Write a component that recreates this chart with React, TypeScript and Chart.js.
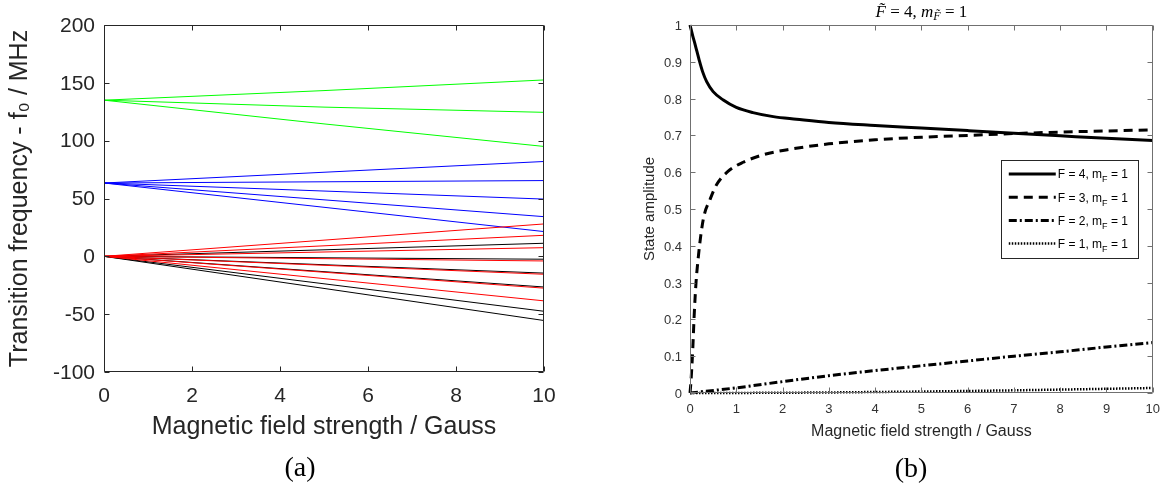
import React, { useEffect, useRef } from 'react';
import { Chart, registerables } from 'chart.js';

Chart.register(...registerables);

// ---------------- Panel (a): transition frequency vs field ----------------
const fieldEnds = [0, 10];
const greenField = [0, 5, 10];
const greenLines = [
  [135, 143.3, 152.5],
  [135, 129, 124.5],
  [135, 114.5, 95],
];
const blueOrigin = 63.4;
const blueEnds = [82, 65.5, 49.5, 34.3, 21.4];
const redOrigin = 0;
const redEnds = [28, 18.2, 7.5, -4, -15.5, -27.5, -38.5];
const blackOrigin = 0;
const blackEnds = [11.3, -2.5, -14.5, -26.5, -47.5, -55.5];

const aXRange = [0, 10];
const aXStep = 2;
const aYRange = [-100, 200];
const aYStep = 50;
const aXTitle = 'Magnetic field strength / Gauss';
const aYTitle = 'Transition frequency - f\u2080 / MHz';

// ---------------- Panel (b): state amplitudes ----------------
const f4Field = [0, 0.02, 0.06, 0.1, 0.15, 0.2, 0.27, 0.36, 0.5, 0.72, 1, 1.36, 1.8, 2.3, 3, 4, 5, 6, 7, 8, 9, 10];
const f4Amp = [1, 0.99, 0.97, 0.952, 0.928, 0.904, 0.874, 0.846, 0.819, 0.796, 0.776, 0.762, 0.751, 0.744, 0.735, 0.727, 0.72, 0.713, 0.706, 0.699, 0.692, 0.686];
const f3Field = [0, 0.02, 0.06, 0.09, 0.13, 0.18, 0.23, 0.3, 0.43, 0.57, 0.82, 1.15, 1.6, 2.2, 3, 4, 5, 6, 7, 8, 9, 10];
const f3Amp = [0, 0.03, 0.12, 0.21, 0.3, 0.37, 0.425, 0.48, 0.525, 0.565, 0.602, 0.627, 0.648, 0.663, 0.677, 0.688, 0.695, 0.7, 0.705, 0.709, 0.712, 0.715];
const f2Field = [0, 1, 2, 3, 4, 5, 6, 7, 8, 9, 10];
const f2Amp = [0, 0.014, 0.031, 0.047, 0.061, 0.074, 0.087, 0.1, 0.112, 0.125, 0.137];
const f1Field = [0, 1, 2, 3, 4, 5, 6, 7, 8, 9, 10];
const f1Amp = [0, 0.0002, 0.0007, 0.0015, 0.0027, 0.004, 0.0055, 0.0073, 0.0093, 0.0114, 0.0136];

const bLegendF = ['4', '3', '2', '1'];
const bXRange = [0, 10];
const bXStep = 1;
const bYRange = [0, 1];
const bYStep = 0.1;
const bXTitle = 'Magnetic field strength / Gauss';
const bYTitle = 'State amplitude';

const captionA = '(a)';
const captionB = '(b)';

const SANS = '"Liberation Sans", Arial, Helvetica, sans-serif';
const SERIF = '"Liberation Serif", "Times New Roman", serif';

const dashStyles = [[], [9, 6], [8, 3, 2, 3], [1.5, 1.5]];
const lineWidths = [3, 3, 3, 2.5];

type Seg = { t: string; font: string; dy?: number };

function drawSegs(ctx: CanvasRenderingContext2D, segs: Seg[], x0: number, baseline: number, center: boolean) {
  let w = 0;
  segs.forEach((s) => {
    ctx.font = s.font;
    w += ctx.measureText(s.t).width;
  });
  let x = center ? x0 - w / 2 : x0;
  ctx.textAlign = 'left';
  ctx.textBaseline = 'alphabetic';
  segs.forEach((s) => {
    ctx.font = s.font;
    ctx.fillText(s.t, x, baseline + (s.dy || 0));
    x += ctx.measureText(s.t).width;
  });
}

function boxTicks(color: string, len: number) {
  return {
    id: 'boxTicks',
    afterDatasetsDraw(chart: any) {
      const { ctx, chartArea: a, scales } = chart;
      const xs = scales.x;
      const ys = scales.y;
      const L = Math.round(a.left) + 0.5;
      const R = Math.round(a.right) - 0.5;
      const T = Math.round(a.top) + 0.5;
      const B = Math.round(a.bottom) - 0.5;
      ctx.save();
      ctx.strokeStyle = color;
      ctx.lineWidth = 1;
      ctx.setLineDash([]);
      ctx.beginPath();
      ctx.rect(L, T, R - L, B - T);
      xs.ticks.forEach((t: any) => {
        const px = Math.round(xs.getPixelForValue(t.value)) + 0.5;
        ctx.moveTo(px, B);
        ctx.lineTo(px, B - len);
        ctx.moveTo(px, T);
        ctx.lineTo(px, T + len);
      });
      ys.ticks.forEach((t: any) => {
        const py = Math.round(ys.getPixelForValue(t.value)) + 0.5;
        ctx.moveTo(L, py);
        ctx.lineTo(L + len, py);
        ctx.moveTo(R, py);
        ctx.lineTo(R - len, py);
      });
      ctx.stroke();
      ctx.restore();
    },
  };
}

const bTitlePlugin = {
  id: 'bTitle',
  afterDraw(chart: any) {
    const { ctx, chartArea: a } = chart;
    ctx.save();
    ctx.fillStyle = '#000';
    const it = `italic 17px ${SERIF}`;
    const rg = `17px ${SERIF}`;
    const sub = `italic 12px ${SERIF}`;
    drawSegs(
      ctx,
      [
        { t: 'F\u0303', font: it },
        { t: ' = 4, ', font: rg },
        { t: 'm', font: it },
        { t: 'F\u0303', font: sub, dy: 3 },
        { t: ' = 1', font: rg },
      ],
      (a.left + a.right) / 2,
      17,
      true
    );
    ctx.restore();
  },
};

const bLegendPlugin = {
  id: 'bLegend',
  afterDraw(chart: any) {
    const { ctx, chartArea: a } = chart;
    const right = a.right - 14;
    const left = right - 138;
    const top = 160;
    const h = 98;
    ctx.save();
    ctx.fillStyle = '#fff';
    ctx.fillRect(left, top, right - left, h);
    ctx.strokeStyle = '#262626';
    ctx.lineWidth = 1;
    ctx.strokeRect(Math.round(left) + 0.5, top + 0.5, Math.round(right - left) - 1, h);
    bLegendF.forEach((f, i) => {
      const cy = top + 14 + i * 23.2;
      ctx.strokeStyle = '#000';
      ctx.lineWidth = lineWidths[i];
      ctx.setLineDash(dashStyles[i]);
      ctx.beginPath();
      ctx.moveTo(left + 8, cy);
      ctx.lineTo(left + 55, cy);
      ctx.stroke();
      ctx.setLineDash([]);
      ctx.fillStyle = '#000';
      drawSegs(
        ctx,
        [
          { t: `F = ${f}, m`, font: `12px ${SANS}` },
          { t: 'F', font: `9px ${SANS}`, dy: 4 },
          { t: ' = 1', font: `12px ${SANS}` },
        ],
        left + 57,
        cy + 4.3,
        false
      );
    });
    ctx.restore();
  },
};

function pts(xs: number[], ys: number[]) {
  return xs.map((x, i) => ({ x, y: ys[i] }));
}

function App() {
  const aRef = useRef<HTMLCanvasElement>(null);
  const bRef = useRef<HTMLCanvasElement>(null);

  useEffect(() => {
    const thin = (data: any[], color: string) => ({
      data,
      borderColor: color,
      backgroundColor: color,
      borderWidth: 1,
      pointRadius: 0,
      fill: false,
      tension: 0,
    });
    const aDatasets = [
      ...redEnds.map((e) => thin(pts(fieldEnds, [redOrigin, e]), '#ff0000')),
      ...blackEnds.map((e) => thin(pts(fieldEnds, [blackOrigin, e]), '#000000')),
      ...blueEnds.map((e) => thin(pts(fieldEnds, [blueOrigin, e]), '#0000ff')),
      ...greenLines.map((ys) => thin(pts(greenField, ys), '#00ff00')),
    ];

    const chartA = new Chart(aRef.current as HTMLCanvasElement, {
      type: 'line',
      data: { datasets: aDatasets as any },
      options: {
        responsive: false,
        animation: false,
        events: [],
        layout: { padding: { left: 0, top: 25, right: 41, bottom: 0 } },
        plugins: { legend: { display: false }, tooltip: { enabled: false }, title: { display: false } },
        scales: {
          x: {
            type: 'linear',
            min: aXRange[0],
            max: aXRange[1],
            grid: { display: false, drawTicks: false },
            border: { display: false },
            ticks: { stepSize: aXStep, padding: 12, color: '#262626', font: { family: SANS, size: 21 }, maxRotation: 0 },
            title: { display: true, text: aXTitle, color: '#262626', font: { family: SANS, size: 25 }, padding: { top: 0, bottom: 54 } },
            afterFit: (s: any) => {
              s.height = 124;
            },
          },
          y: {
            type: 'linear',
            min: aYRange[0],
            max: aYRange[1],
            grid: { display: false, drawTicks: false },
            border: { display: false },
            ticks: { stepSize: aYStep, padding: 9, labelOffset: 1, color: '#262626', font: { family: SANS, size: 21 } },
            title: { display: true, text: aYTitle, color: '#262626', font: { family: SANS, size: 25 }, padding: { top: 5, bottom: 0 } },
            afterFit: (s: any) => {
              s.width = 104;
            },
          },
        },
      },
      plugins: [boxTicks('#262626', 5)],
    });

    const bSeries = [pts(f4Field, f4Amp), pts(f3Field, f3Amp), pts(f2Field, f2Amp), pts(f1Field, f1Amp)];
    const bDatasets = bSeries.map((data, i) => ({
      data,
      borderColor: '#000',
      backgroundColor: '#000',
      borderWidth: lineWidths[i],
      borderDash: dashStyles[i],
      pointRadius: 0,
      fill: false,
      cubicInterpolationMode: 'monotone',
      clip: false,
    }));

    const chartB = new Chart(bRef.current as HTMLCanvasElement, {
      type: 'line',
      data: { datasets: bDatasets as any },
      options: {
        responsive: false,
        animation: false,
        events: [],
        layout: { padding: { left: 0, top: 25, right: 14, bottom: 0 } },
        plugins: { legend: { display: false }, tooltip: { enabled: false }, title: { display: false } },
        scales: {
          x: {
            type: 'linear',
            min: bXRange[0],
            max: bXRange[1],
            grid: { display: false, drawTicks: false },
            border: { display: false },
            ticks: { stepSize: bXStep, padding: 9, color: '#333', font: { family: SANS, size: 13 }, maxRotation: 0 },
            title: { display: true, text: bXTitle, color: '#262626', font: { family: SANS, size: 16 }, padding: { top: 0, bottom: 55 } },
            afterFit: (s: any) => {
              s.height = 103;
            },
          },
          y: {
            type: 'linear',
            min: bYRange[0],
            max: bYRange[1],
            grid: { display: false, drawTicks: false },
            border: { display: false },
            ticks: {
              stepSize: bYStep,
              padding: 8,
              labelOffset: 1.5,
              color: '#333',
              font: { family: SANS, size: 13 },
              callback: (v: any) => String(Math.round(Number(v) * 10) / 10),
            },
            title: { display: true, text: bYTitle, color: '#262626', font: { family: SANS, size: 15 }, padding: { top: 56, bottom: 0 } },
            afterFit: (s: any) => {
              s.width = 105;
            },
          },
        },
      },
      plugins: [boxTicks('#707070', 5), bTitlePlugin, bLegendPlugin],
    });

    return () => {
      chartA.destroy();
      chartB.destroy();
    };
  }, []);

  const cap: React.CSSProperties = {
    position: 'absolute',
    width: 100,
    textAlign: 'center',
    fontFamily: SERIF,
    fontSize: 28,
    lineHeight: '28px',
    color: '#000',
  };

  return (
    <div style={{ position: 'fixed', left: 0, top: 0, width: 1169, height: 496, background: '#fff', overflow: 'hidden' }}>
      <canvas ref={aRef} width={585} height={496} style={{ position: 'absolute', left: 0, top: 0, width: 585, height: 496 }} />
      <canvas ref={bRef} width={584} height={496} style={{ position: 'absolute', left: 585, top: 0, width: 584, height: 496 }} />
      <div style={{ ...cap, left: 250, top: 453 }}>{captionA}</div>
      <div style={{ ...cap, left: 861, top: 454 }}>{captionB}</div>
    </div>
  );
}

export default App;
